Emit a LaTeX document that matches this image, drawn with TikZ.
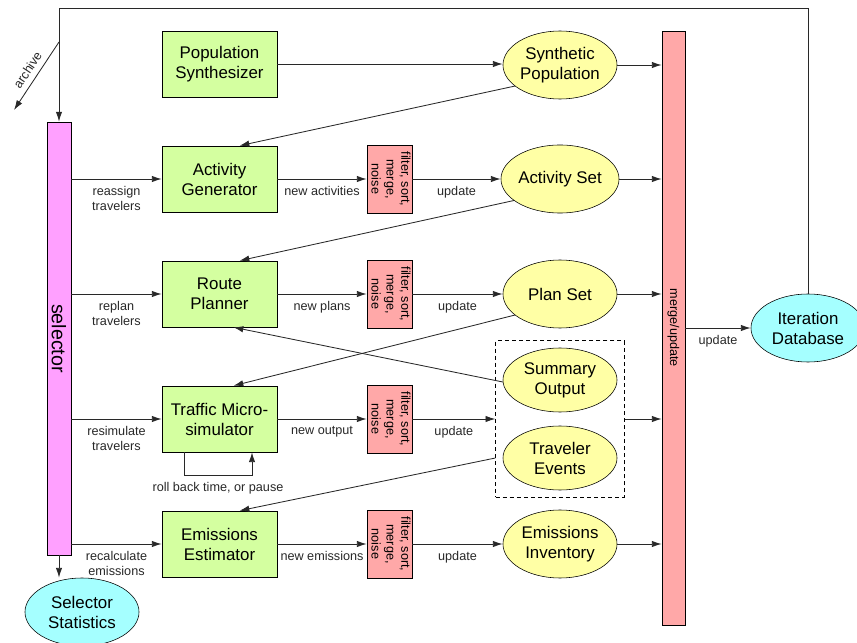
\documentclass[tikz,border=0pt]{standalone}
\usepackage{fontspec}
\setmainfont{Liberation Sans}
\usepackage{graphicx}
\usepackage{tikz}
\usetikzlibrary{positioning, arrows.meta, fit, calc, shapes.geometric}
\definecolor{procg}{RGB}{212,255,160}
\definecolor{storey}{RGB}{255,255,165}
\definecolor{dbc}{RGB}{165,255,255}
\definecolor{selp}{RGB}{255,160,255}
\definecolor{filtr}{RGB}{255,168,168}
\definecolor{wire}{RGB}{40,40,40}
\newcommand{\boxfont}{\fontsize{12}{14.2}\selectfont}
\newcommand{\labfont}{\fontsize{9}{10.6}\selectfont}
\newcommand{\fsmn}{\rotatebox{-90}{\begin{tabular}{@{}c@{}}filter, sort,\\merge,\\noise\end{tabular}}}

\begin{document}
\begin{tikzpicture}[x=0.025cm, y=-0.025cm,
  proc/.style={draw, fill=procg, minimum width=2.875cm, minimum height=1.65cm, align=center, font=\boxfont, inner sep=2pt},
  store/.style={ellipse, draw, fill=storey, minimum width=2.85cm, minimum height=1.7cm, align=center, font=\boxfont, inner sep=0pt},
  db/.style={store, fill=dbc},
  filt/.style={draw, fill=filtr, minimum width=1.125cm, minimum height=1.7cm, inner sep=0pt, font=\labfont},
  lab/.style={font=\labfont, align=center, inner sep=2pt},
  arr/.style={wire, line width=0.6pt, -{Latex[length=7pt, width=4.5pt]}}]
\useasboundingbox (0,0) rectangle (857,643);
% bars
\node[draw, fill=selp, minimum width=0.6cm, minimum height=10.825cm, inner sep=0pt, font=\fontsize{14}{16}\selectfont] (sel) at (59,338.5) {\rotatebox{-90}{selector}};
\node[draw, fill=filtr, minimum width=0.575cm, minimum height=14.85cm, inner sep=0pt, font=\labfont] (merge) at (673.5,328) {\rotatebox{-90}{merge/update}};
% processes
\node[proc] (popsyn) at (219.5,64) {Population\\Synthesizer};
\node[proc] (actgen) at (219.5,179) {Activity\\Generator};
\node[proc] (route) at (219.5,294) {Route\\Planner};
\node[proc] (traffic) at (219.5,419) {Traffic Micro-\\simulator};
\node[proc] (emis) at (219.5,544) {Emissions\\Estimator};
% filters
\node[filt] (filt1) at (389.5,179) {\fsmn};
\node[filt] (filt2) at (389.5,294) {\fsmn};
\node[filt] (filt3) at (389.5,419) {\fsmn};
\node[filt] (filt4) at (389.5,544) {\fsmn};
% data
\node[store] (synpop) at (560,65) {Synthetic\\Population};
\node[store] (actset) at (560,179) {Activity Set};
\node[store] (planset) at (560,294) {Plan Set};
\node[store, minimum height=1.6cm] (summ) at (560,380) {Summary\\Output};
\node[store, minimum height=1.6cm] (trev) at (560,458) {Traveler\\Events};
\node[store] (emisinv) at (560,544) {Emissions\\Inventory};
\node[draw, dashed, dash pattern=on 3pt off 2pt, fit=(summ)(trev), inner sep=5pt] (dbox) {};
\node[db] (iter) at (808,328) {Iteration\\Database};
\node[db] (selstat) at (82,612) {Selector\\Statistics};
% feedback from the database
\coordinate (topl) at (59,8);
\coordinate (arch) at (59,42);
\coordinate (archend) at (14,110);
\draw[arr] (iter.north) |- (topl) -- (sel.north);
\draw[arr] (arch) -- node[lab, sloped, above=2pt] {archive} (archend);
\draw[arr] (sel.south) -- (sel.south |- selstat.north);
% selector outputs
\draw[arr] (sel.east |- actgen) -- node[lab, below=3pt] {reassign\\travelers} (actgen);
\draw[arr] (sel.east |- route) -- node[lab, below=3pt] {replan\\travelers} (route);
\draw[arr] (sel.east |- traffic) -- node[lab, below=3pt] {resimulate\\travelers} (traffic);
\draw[arr] (sel.east |- emis) -- node[lab, below=3pt] {recalculate\\emissions} (emis);
% rows
\draw[arr] (popsyn) -- (popsyn -| synpop.west);
\draw[arr] (actgen) -- node[lab, below=3pt] {new activities} (filt1);
\draw[arr] (filt1) -- node[lab, below=3pt] {update} (actset);
\draw[arr] (route) -- node[lab, below=3pt] {new plans} (filt2);
\draw[arr] (filt2) -- node[lab, below=3pt] {update} (planset);
\draw[arr] (traffic) -- node[lab, below=3pt] {new output} (filt3);
\draw[arr] (filt3) -- node[lab, below=3pt] {update} (dbox.west |- filt3);
\draw[arr] (emis) -- node[lab, below=3pt] {new emissions} (filt4);
\draw[arr] (filt4) -- node[lab, below=3pt] {update} (emisinv);
% into merge/update
\draw[arr] (synpop) -- (synpop -| merge.west);
\draw[arr] (actset) -- (actset -| merge.west);
\draw[arr] (planset) -- (planset -| merge.west);
\draw[arr] (dbox.east |- filt3) -- (filt3 -| merge.west);
\draw[arr] (emisinv) -- (emisinv -| merge.west);
\draw[arr] (merge.east |- iter) -- node[lab, below=3pt] {update} (iter);
% inputs to the next stage
\draw[arr] (synpop.205) -- ([xshift=0.5cm]actgen.north);
\draw[arr] (actset.205) -- ([xshift=0.5cm]route.north);
\draw[arr] (planset.205) -- ([xshift=0.35cm]traffic.north);
\draw[arr] (summ.182) -- ([xshift=0.35cm]route.south);
\draw[arr] (dbox.west |- trev) -- ([xshift=0.5cm]emis.north);
% roll back loop
\coordinate (rbl) at (184,475);
\coordinate (rbr) at (252,475);
\draw[arr] (traffic.south -| rbl) -- (rbl) -- node[lab, below=3pt] {roll back time, or pause} (rbr) -- (traffic.south -| rbr);
\end{tikzpicture}
\end{document}
